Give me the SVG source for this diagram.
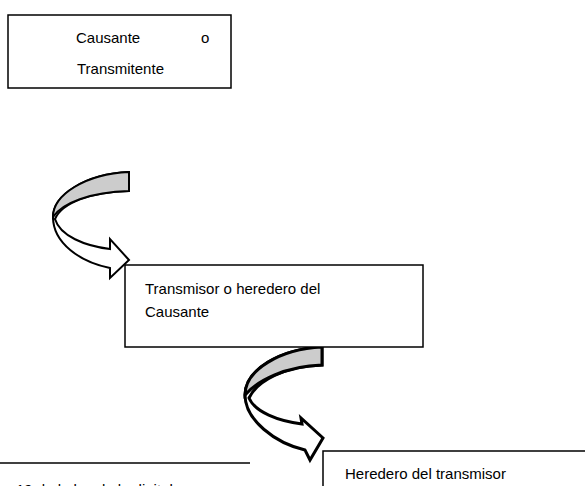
<svg xmlns="http://www.w3.org/2000/svg" width="585" height="486" viewBox="0 0 585 486">
<style>
.box{fill:#fff;stroke:#000;stroke-width:1.5}
.t{font-family:"Liberation Sans",Arial,sans-serif;font-size:15px;fill:#000}
.front{fill:#fff;stroke:#000;stroke-linejoin:miter}
.back{fill:#cccccc;stroke:#000}
</style>
<rect width="585" height="486" fill="#fff"/>
<g id="connectors">
<g id="arrow1" stroke-width="2">
<path class="front" d="M129,172 C85,174 53,195 53,217 C53,243 80,262 110,268 L110,278 L129,260 L110,239 L110,249 C85,246 60,236 55,219 C62,203 90,192 129,191 Z"/>
<path class="back" d="M129,172 C85,174 53,195 53,217 C62,203 90,192 129,191 Z"/>
</g>
<g id="arrow2" stroke-width="3">
<path class="front" d="M322,347 C280,349 245,370 245,395 C245,420 275,443 305,450 L310,460 L323,438 L301,418 L302,424 C278,421 255,412 249,398 C257,381 285,366 322,365 Z"/>
<path class="back" d="M322,347 C280,349 245,370 245,395 C257,381 285,366 322,365 Z"/>
</g>
</g>
<g id="node1">
<rect class="box" x="8" y="15" width="223" height="73"/>
<text class="t" x="76" y="43">Causante</text>
<text class="t" x="201" y="43">o</text>
<text class="t" x="77" y="74">Transmitente</text>
</g>
<g id="node2">
<rect class="box" x="125" y="265" width="298" height="82"/>
<text class="t" x="145" y="294">Transmisor o heredero del</text>
<text class="t" x="145" y="317">Causante</text>
</g>
<g id="node3">
<rect class="box" x="323" y="451" width="280" height="60"/>
<text class="t" x="345" y="479">Heredero del transmisor</text>
</g>
<g id="footnote">
<line x1="0" y1="463" x2="250" y2="463" stroke="#000" stroke-width="1.5"/>
<text class="t" x="16" y="495" font-size="14">19 de la ley de la digital</text>
</g>
</svg>
